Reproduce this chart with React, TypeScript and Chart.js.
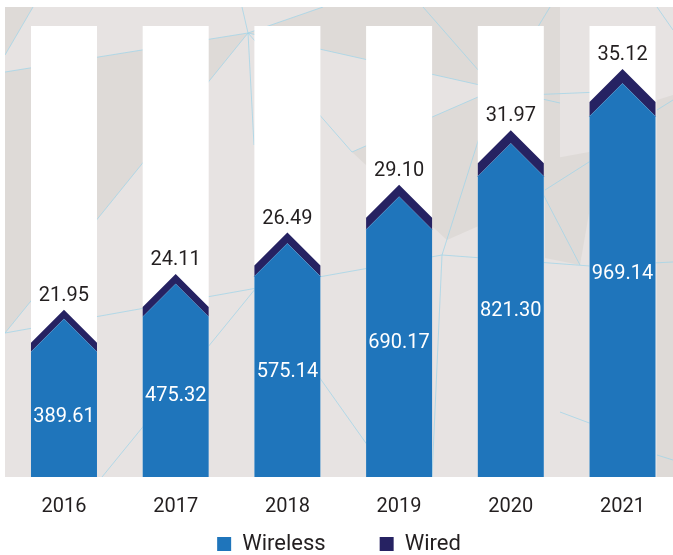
import React, { useEffect, useRef } from "react";
import { Chart, registerables } from "chart.js";

Chart.register(...registerables);

// ---- data ----
const years = ["2016", "2017", "2018", "2019", "2020", "2021"];
const wireless = [389.61, 475.32, 575.14, 690.17, 821.3, 969.14];
const wired = [21.95, 24.11, 26.49, 29.1, 31.97, 35.12];

// ---- styles ----
const BLUE = "#1f75bb";
const NAVY = "#262262";
const TEXT = "#231f20";
const BG_LIGHT = "#e7e3e2";
const BG_DARK = "#dedad7";
const LINE = "rgba(160,212,232,0.75)";
const FONT = "Roboto";

// decorative low-poly background (pixel coordinates)
const bgDark: number[][][] = [
  [[5, 7], [33, 7], [5, 55]],
  [[5, 72], [248, 33], [5, 333]],
  [[248, 33], [323, 7], [560, 7], [560, 103]],
  [[352, 152], [478, 97], [560, 95], [560, 190], [447, 240]],
  [[545, 160], [600, 150], [580, 265], [545, 258]],
  [[657, 100], [673, 95], [673, 477], [657, 477]],
];
const bgLines: number[][][] = [
  [[33, 7], [5, 55]],
  [[5, 72], [248, 33]],
  [[248, 33], [5, 333]],
  [[242, 7], [248, 33]],
  [[248, 33], [323, 7]],
  [[248, 33], [254, 145]],
  [[248, 33], [352, 152]],
  [[248, 33], [560, 103]],
  [[352, 152], [478, 97], [600, 92]],
  [[423, 7], [500, 95]],
  [[442, 255], [480, 135]],
  [[5, 333], [442, 255], [590, 266], [673, 262]],
  [[102, 477], [256, 288]],
  [[256, 288], [390, 477]],
  [[442, 255], [432, 477]],
  [[520, 150], [580, 265]],
  [[545, 190], [600, 155]],
  [[550, 7], [530, 40]],
  [[657, 7], [673, 30]],
  [[657, 110], [673, 100]],
  [[560, 412], [600, 427]],
  [[657, 455], [673, 460]],
];

const chevronPlugin = {
  id: "chevrons",
  afterLayout(chart: any) {
    // let the x tick labels extend over the legend's empty top padding
    const s = chart.scales.x;
    s.bottom = s.top + 44;
  },
  beforeDraw(chart: any) {
    const { ctx, chartArea } = chart;
    const L = chartArea.left, R = chartArea.right, T = chartArea.top - 19, B = chartArea.bottom;
    ctx.save();
    ctx.beginPath();
    ctx.rect(L, T, R - L, B - T);
    ctx.clip();
    ctx.fillStyle = BG_LIGHT;
    ctx.fillRect(L, T, R - L, B - T);
    ctx.fillStyle = BG_DARK;
    bgDark.forEach((poly) => {
      ctx.beginPath();
      poly.forEach(([px, py], i) => (i ? ctx.lineTo(px, py) : ctx.moveTo(px, py)));
      ctx.closePath();
      ctx.fill();
    });
    ctx.strokeStyle = LINE;
    ctx.lineWidth = 1;
    bgLines.forEach((ln) => {
      ctx.beginPath();
      ln.forEach(([px, py], i) => (i ? ctx.lineTo(px, py) : ctx.moveTo(px, py)));
      ctx.stroke();
    });
    ctx.restore();
  },
  beforeDatasetsDraw(chart: any) {
    const { ctx, chartArea } = chart;
    const meta = chart.getDatasetMeta(0);
    ctx.save();
    ctx.fillStyle = "#ffffff";
    meta.data.forEach((el: any) => {
      const { x, width } = el.getProps(["x", "width"], true);
      ctx.fillRect(x - width / 2, chartArea.top, width, chartArea.bottom - chartArea.top);
    });
    ctx.restore();
  },
  beforeDatasetDraw(chart: any, args: any) {
    const { ctx } = chart;
    const meta = args.meta;
    ctx.save();
    meta.data.forEach((el: any) => {
      const { x, y, base, width } = el.getProps(["x", "y", "base", "width"], true);
      const h = width / 2;
      ctx.beginPath();
      if (args.index === 0) {
        ctx.fillStyle = BLUE;
        ctx.moveTo(x - h, base);
        ctx.lineTo(x - h, y + h);
        ctx.lineTo(x, y);
        ctx.lineTo(x + h, y + h);
        ctx.lineTo(x + h, base);
      } else {
        ctx.fillStyle = NAVY;
        ctx.moveTo(x - h, base + h);
        ctx.lineTo(x, base);
        ctx.lineTo(x + h, base + h);
        ctx.lineTo(x + h, y + h);
        ctx.lineTo(x, y);
        ctx.lineTo(x - h, y + h);
      }
      ctx.closePath();
      ctx.fill();
    });
    ctx.restore();
    return false;
  },
  afterDatasetsDraw(chart: any) {
    const { ctx } = chart;
    const yScale = chart.scales.y;
    const m0 = chart.getDatasetMeta(0);
    const m1 = chart.getDatasetMeta(1);
    ctx.save();
    ctx.font = `20px ${FONT}`;
    ctx.textAlign = "center";
    ctx.textBaseline = "middle";
    m0.data.forEach((el: any, i: number) => {
      const { x } = el.getProps(["x"], true);
      const v = wireless[i];
      ctx.fillStyle = "#ffffff";
      ctx.fillText(v.toFixed(2), x, yScale.getPixelForValue(0.6083 * v - 90.5));
    });
    m1.data.forEach((el: any, i: number) => {
      const { x, y } = el.getProps(["x", "y"], true);
      ctx.fillStyle = TEXT;
      ctx.fillText(wired[i].toFixed(2), x, y - 14);
    });
    ctx.restore();
  },
};

export default function App() {
  const ref = useRef<HTMLCanvasElement | null>(null);
  useEffect(() => {
    document.body.style.margin = "0";
    if (!ref.current) return;
    const chart = new Chart(ref.current, {
      type: "bar",
      data: {
        datasets: [
          {
            label: "Wireless",
            data: wireless.map((v, i) => ({ x: i, y: v })),
            backgroundColor: BLUE,
            borderWidth: 0,
            barThickness: 66,
          },
          {
            label: "Wired",
            data: wired.map((v, i) => ({ x: i, y: v })),
            backgroundColor: NAVY,
            borderWidth: 0,
            barThickness: 66,
          },
        ],
      },
      options: {
        responsive: false,
        devicePixelRatio: 1,
        animation: false,
        layout: { padding: { top: 26, left: 5, right: 0, bottom: 0 } },
        plugins: {
          tooltip: { enabled: false },
          legend: {
            position: "bottom",
            labels: {
              boxWidth: 14,
              boxHeight: 14,
              padding: 54,
              color: TEXT,
              font: { family: FONT, size: 22 },
            },
          },
        },
        scales: {
          x: {
            type: "linear",
            min: -0.528,
            max: 5.452,
            offset: false,
            stacked: true,
            grid: { display: false, offset: false },
            border: { display: false },
            afterFit: (s: any) => {
              s.height = 2;
            },
            ticks: {
              stepSize: 1,
              includeBounds: false,
              autoSkip: false,
              maxRotation: 0,
              padding: 10,
              color: TEXT,
              font: { family: FONT, size: 20 },
              callback: (v: any) => (Number.isInteger(v) && years[v] ? years[v] : ""),
            },
          },
          y: { display: false, min: 0, max: 1110, stacked: true },
        },
      },
      plugins: [chevronPlugin],
    } as any);
    return () => chart.destroy();
  }, []);
  return (
    <div style={{ width: 673, height: 555, overflow: "hidden" }}>
      <canvas ref={ref} width={673} height={565} style={{ display: "block" }} />
    </div>
  );
}
